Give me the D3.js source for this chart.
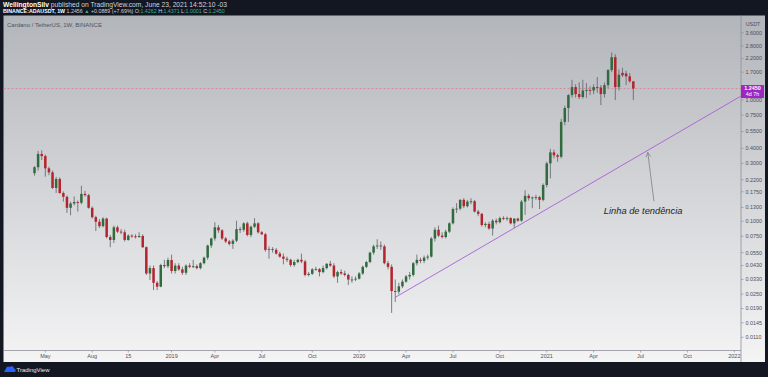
<!DOCTYPE html>
<html>
<head>
<meta charset="utf-8">
<script src="https://cdn.jsdelivr.net/npm/d3@7"></script>
<style>
  html, body { margin: 0; padding: 0; background: #131722; }
  svg { display: block; font-family: 'Liberation Sans', Arial, sans-serif; }
</style>
</head>
<body>
<div id="chart"></div>
<script>
/**
 * ADA/USDT weekly candles, log price scale
 */

// first weekly bar (Monday), one bar per week after that
var firstWeek = '2018-04-16';

var opens = [
  .249, .279, .359, .345, .273, .253, .188, .223, .171, .159,   // 0
  .129, .140, .144, .142, .168, .164, .129, .108, .099, .091,   // 10
  .105, .074, .070, .089, .082, .081, .070, .076, .075, .074,   // 20
  .0755, .061, .037, .041, .031, .0288, .0435, .0425, .0478, .0388, // 30
  .043, .040, .0375, .043, .042, .0425, .041, .045, .050, .063, // 40
  .072, .089, .084, .072, .068, .065, .069, .086, .085, .096,   // 50
  .077, .090, .096, .081, .078, .058, .059, .058, .054, .051,   // 60
  .049, .048, .0435, .046, .048, .0465, .036, .0368, .040, .0402, // 70
  .038, .041, .0445, .043, .035, .038, .037, .036, .033, .033,  // 80
  .0335, .037, .042, .046, .055, .062, .063, .062, .045, .042,  // 90
  .0265, .0262, .029, .0317, .035, .036, .045, .048, .047, .050, // 100
  .051, .072, .085, .076, .074, .082, .096, .126, .127, .150,   // 110
  .133, .145, .146, .120, .115, .093, .095, .087, .101, .098,   // 120
  .106, .105, .106, .096, .105, .101, .145, .162, .155, .157,   // 130
  .158, .150, .199, .30, .37, .35, .34, .66, .86, 1.10,         // 140
  1.28, 1.12, 1.06, 1.20, 1.21, 1.20, 1.28, 1.27, 1.12, 1.33,   // 150
  1.77, 2.26, 1.28, 1.68, 1.66, 1.57, 1.4262                    // 160
];

var highs = [
  .285, .380, .385, .355, .282, .262, .232, .230, .176, .163,
  .145, .160, .148, .196, .178, .168, .132, .111, .104, .108,
  .107, .077, .092, .092, .086, .085, .078, .078, .078, .081,
  .078, .062, .043, .043, .032, .0445, .048, .050, .053, .045,
  .045, .042, .044, .045, .048, .044, .046, .051, .064, .073,
  .098, .093, .086, .074, .070, .071, .101, .090, .098, .099,
  .092, .106, .098, .083, .080, .062, .061, .060, .056, .054,
  .051, .049, .048, .049, .054, .048, .038, .041, .042, .041,
  .043, .045, .047, .045, .039, .040, .039, .037, .035, .035,
  .038, .043, .047, .056, .064, .071, .068, .064, .047, .044,
  .033, .031, .033, .036, .038, .046, .053, .050, .052, .053,
  .074, .089, .092, .081, .085, .098, .130, .141, .152, .155,
  .150, .155, .150, .124, .117, .098, .099, .104, .105, .109,
  .110, .109, .108, .106, .107, .150, .180, .168, .160, .165,
  .162, .205, .31, .395, .39, .36, .70, .90, 1.12, 1.47,
  1.35, 1.40, 1.47, 1.38, 1.30, 1.35, 1.55, 1.33, 1.40, 1.80,
  2.47, 2.39, 1.79, 1.85, 1.75, 1.67, 1.4371
];

var lows = [
  .238, .262, .320, .233, .240, .185, .171, .168, .145, .117,
  .112, .135, .120, .138, .160, .127, .105, .083, .088, .089,
  .072, .061, .066, .080, .078, .068, .069, .073, .072, .073,
  .060, .036, .0327, .027, .027, .0285, .041, .041, .037, .037,
  .039, .036, .036, .041, .041, .040, .040, .044, .048, .060,
  .069, .080, .070, .066, .063, .059, .067, .080, .082, .075,
  .074, .088, .079, .077, .056, .049, .055, .053, .050, .044,
  .046, .042, .042, .045, .045, .035, .035, .036, .039, .035,
  .037, .040, .042, .034, .031, .036, .035, .0297, .031, .032,
  .033, .036, .041, .045, .053, .059, .058, .044, .040, .0175,
  .0215, .025, .028, .031, .033, .035, .043, .045, .045, .048,
  .050, .068, .074, .072, .072, .080, .094, .117, .123, .128,
  .130, .138, .118, .110, .090, .089, .085, .076, .094, .096,
  .102, .101, .094, .088, .099, .099, .113, .148, .128, .150,
  .126, .146, .19, .226, .33, .31, .33, .62, .66, 1.05,
  1.05, 1.02, 1.03, 1.04, 1.10, 1.12, 1.15, 0.91, 1.05, 1.25,
  1.70, 1.00, 1.20, 1.55, 1.33, 1.39, 1.0001
];

var closes = [
  .279, .359, .345, .273, .253, .188, .223, .171, .159, .129,
  .140, .144, .142, .168, .164, .129, .108, .099, .091, .105,
  .074, .070, .089, .082, .081, .070, .076, .075, .074, .0755,
  .061, .037, .041, .031, .0288, .0435, .0425, .0478, .0388, .043,
  .040, .0375, .043, .042, .0425, .041, .045, .050, .063, .072,
  .089, .084, .072, .068, .065, .069, .086, .085, .096, .077,
  .090, .096, .081, .078, .058, .059, .058, .054, .051, .049,
  .048, .0435, .046, .048, .0465, .036, .0368, .040, .0402, .038,
  .041, .0445, .043, .035, .038, .037, .036, .033, .033, .0335,
  .037, .042, .046, .055, .062, .063, .062, .045, .042, .0265,
  .0262, .029, .0317, .035, .036, .045, .048, .047, .050, .051,
  .072, .085, .076, .074, .082, .096, .126, .127, .150, .133,
  .145, .146, .120, .115, .093, .095, .087, .101, .098, .106,
  .105, .106, .096, .105, .101, .145, .162, .155, .157, .158,
  .150, .199, .30, .37, .35, .34, .66, .86, 1.10, 1.28,
  1.12, 1.06, 1.20, 1.21, 1.20, 1.28, 1.27, 1.12, 1.33, 1.77,
  2.26, 1.28, 1.62, 1.60, 1.57, 1.43, 1.2450
];

// price axis labels (log scale)
var priceTicks = [3.6, 2.8, 2.2, 1.7, 1.0, 0.75, 0.55, 0.40, 0.30, 0.22, 0.175,
                  0.13, 0.10, 0.075, 0.055, 0.043, 0.033, 0.025, 0.019, 0.0145, 0.011];

// time axis labels
var timeTicks  = ['2018-05-07', '2018-08-06', '2018-10-15', '2019-01-07', '2019-04-01', '2019-07-01',
                  '2019-10-07', '2020-01-06', '2020-04-06', '2020-07-06', '2020-10-05', '2021-01-04',
                  '2021-04-05', '2021-07-05', '2021-10-04', '2022-01-03'];
var timeLabels = ['May', 'Aug', '15', '2019', 'Apr', 'Jul', 'Oct', '2020', 'Apr', 'Jul', 'Oct', '2021',
                  'Apr', 'Jul', 'Oct', '2022'];

var lastPrice = 1.2450,
    countdown = '4d 7h';

// drawing: trend line, arrow and note
var trendDates  = ['2020-03-16', '2022-01-16'],
    trendPrices = [0.0235, 1.08];
var arrowDates  = ['2021-07-31', '2021-07-19'],
    arrowPrices = [0.146, 0.37];
var noteDate = '2021-07-10', notePrice = 0.114, noteText = 'Linha de tendência';

/**
 * Vars
 */
var W = 768, H = 377,
    plot = { left: 3.5, right: 741, top: 15.5, bottom: 350.5 },
    parse = d3.utcParse('%Y-%m-%d'),
    upColor = '#2f6b3d',
    downColor = '#b3242c',
    wickColor = '#5e616b',
    axisText = '#4c4f5a';

var x = d3.scaleUtc()
  .domain([ parse('2018-04-16'), parse('2022-01-01') ])
  .range([ 34.5, 733.3 ]);

var y = d3.scaleLog()
  .domain([ 0.011, 3.6 ])
  .range([ 337.3, 32.7 ]);

var start = parse(firstWeek);
var candles = closes.map(function(c, i) {
  return { date: d3.utcMonday.offset(start, i), o: opens[i], h: highs[i], l: lows[i], c: c };
});

/**
 * SVG
 */
var svg = d3.select('#chart').append('svg')
  .attr('width', W)
  .attr('height', H);

var defs = svg.append('defs');
var grad = defs.append('linearGradient')
  .attr('id', 'bg')
  .attr('x1', 0).attr('y1', 0).attr('x2', 0).attr('y2', 1);
grad.append('stop').attr('offset', '0%').attr('stop-color', '#b2b5ba');
grad.append('stop').attr('offset', '100%').attr('stop-color', '#f4f4f5');

defs.append('clipPath').attr('id', 'plotclip')
  .append('rect')
    .attr('x', plot.left).attr('y', plot.top)
    .attr('width', plot.right - plot.left).attr('height', plot.bottom - plot.top);

defs.append('marker')
  .attr('id', 'arrowhead')
  .attr('viewBox', '0 0 8 8')
  .attr('refX', 7).attr('refY', 4)
  .attr('markerWidth', 6).attr('markerHeight', 6)
  .attr('markerUnits', 'userSpaceOnUse')
  .attr('orient', 'auto')
  .append('path')
    .attr('d', 'M1,1 L7,4 L1,7')
    .attr('fill', 'none')
    .attr('stroke', '#7d8089')
    .attr('stroke-width', 1);

// dark frame + light panel
svg.append('rect').attr('width', W).attr('height', H).attr('fill', '#131722');
svg.append('rect')
  .attr('x', plot.left).attr('y', plot.top)
  .attr('width', 765 - plot.left).attr('height', 362 - plot.top)
  .attr('fill', 'url(#bg)');

/**
 * Header
 */
var l1 = svg.append('text').attr('x', 3).attr('y', 7.2).attr('font-size', '6.7px');
l1.append('tspan').attr('font-weight', 'bold').attr('fill', '#ffffff').text('WellingtonSilv');
l1.append('tspan').attr('fill', '#d1d4dc').text(' published on TradingView.com, June 23, 2021 14:52:10 -03');

var green = '#3bb08f';
var l2 = svg.append('text').attr('x', 3).attr('y', 13.4).attr('font-size', '5.3px').attr('fill', '#d1d4dc');
l2.append('tspan').attr('font-weight', 'bold').attr('fill', '#ffffff').text('BINANCE:ADAUSDT, 1W');
l2.append('tspan').text(' 1.2456 ');
l2.append('tspan').attr('fill', green).text('\u25B2');
l2.append('tspan').text(' +0.0889 (+7.69%) O:');
l2.append('tspan').attr('fill', green).text('1.4262');
l2.append('tspan').text(' H:');
l2.append('tspan').attr('fill', green).text('1.4371');
l2.append('tspan').text(' L:');
l2.append('tspan').attr('fill', green).text('1.0001');
l2.append('tspan').text(' C:');
l2.append('tspan').attr('fill', green).text('1.2450');

svg.append('text')
  .attr('x', 7).attr('y', 27)
  .attr('font-size', '6px')
  .attr('fill', '#50535d')
  .text('Cardano / TetherUS, 1W, BINANCE');

/**
 * Last price line
 */
svg.append('line')
  .attr('x1', plot.left).attr('x2', plot.right)
  .attr('y1', y(lastPrice)).attr('y2', y(lastPrice))
  .attr('stroke', '#e06f86')
  .attr('stroke-width', 0.7)
  .attr('stroke-dasharray', '2,2');

/**
 * Candles
 */
var bw = 2.5;
var bars = svg.append('g').attr('clip-path', 'url(#plotclip)')
  .selectAll('.candle').data(candles)
  .enter().append('g')
    .attr('class', 'candle');

bars.append('line')
  .attr('x1', function(d) { return x(d.date); })
  .attr('x2', function(d) { return x(d.date); })
  .attr('y1', function(d) { return y(d.h); })
  .attr('y2', function(d) { return y(d.l); })
  .attr('stroke', wickColor)
  .attr('stroke-width', 0.8);

bars.append('rect')
  .attr('x', function(d) { return x(d.date) - bw / 2; })
  .attr('width', bw)
  .attr('y', function(d) { return y(Math.max(d.o, d.c)); })
  .attr('height', function(d) { return Math.max(0.9, Math.abs(y(d.o) - y(d.c))); })
  .attr('fill', function(d) { return d.c >= d.o ? upColor : downColor; });

/**
 * Trend line + note
 */
var lineGen = d3.line()
  .x(function(d) { return x(parse(d[0])); })
  .y(function(d) { return y(d[1]); });

svg.append('path')
  .attr('clip-path', 'url(#plotclip)')
  .attr('d', lineGen(d3.zip(trendDates, trendPrices)))
  .attr('fill', 'none')
  .attr('stroke', '#ab5cd8')
  .attr('stroke-width', 0.9);

svg.append('path')
  .attr('d', lineGen(d3.zip(arrowDates, arrowPrices)))
  .attr('fill', 'none')
  .attr('stroke', '#7d8089')
  .attr('stroke-width', 0.8)
  .attr('marker-end', 'url(#arrowhead)');

svg.append('text')
  .attr('x', x(parse(noteDate)))
  .attr('y', y(notePrice))
  .attr('text-anchor', 'middle')
  .attr('font-size', '9.3px')
  .attr('font-style', 'italic')
  .attr('fill', '#1f2229')
  .text(noteText);

/**
 * Axes
 */
svg.append('line')
  .attr('x1', plot.right).attr('x2', plot.right)
  .attr('y1', plot.top).attr('y2', 362)
  .attr('stroke', '#8d9099').attr('stroke-width', 0.8);
svg.append('line')
  .attr('x1', plot.left).attr('x2', plot.right)
  .attr('y1', plot.bottom).attr('y2', plot.bottom)
  .attr('stroke', '#8d9099').attr('stroke-width', 0.8);

var yTicks = svg.selectAll('.ytick').data(priceTicks)
  .enter().append('g')
    .attr('class', 'ytick')
    .attr('transform', function(d) { return 'translate(' + plot.right + ',' + y(d) + ')'; });
yTicks.append('line').attr('x2', 2.5).attr('stroke', '#8d9099').attr('stroke-width', 0.7);
yTicks.append('text')
  .attr('x', 4.5)
  .attr('dy', '0.35em')
  .attr('font-size', '5.4px')
  .attr('fill', axisText)
  .text(function(d) { return d.toFixed(4); });

svg.append('text')
  .attr('x', 753).attr('y', 24).attr('dy', '0.35em')
  .attr('text-anchor', 'middle')
  .attr('font-size', '5.4px')
  .attr('fill', axisText)
  .text('USDT');

var xTicks = svg.selectAll('.xtick').data(timeTicks)
  .enter().append('g')
    .attr('class', 'xtick')
    .attr('transform', function(d) { return 'translate(' + x(parse(d)) + ',' + plot.bottom + ')'; });
xTicks.append('line').attr('y2', 2).attr('stroke', '#8d9099').attr('stroke-width', 0.7);
xTicks.append('text')
  .attr('y', 6).attr('dy', '0.35em')
  .attr('text-anchor', 'middle')
  .attr('font-size', '5.5px')
  .attr('fill', axisText)
  .text(function(d, i) { return timeLabels[i]; });

// price label on the axis
var tag = svg.append('g').attr('transform', 'translate(' + plot.right + ',' + y(lastPrice) + ')');
tag.append('rect')
  .attr('x', 0).attr('y', -3.5)
  .attr('width', 23).attr('height', 13)
  .attr('fill', '#9c27c2');
tag.append('text')
  .attr('x', 11.5).attr('y', 1.5)
  .attr('text-anchor', 'middle').attr('font-size', '5.4px').attr('font-weight', 'bold')
  .attr('fill', '#ffffff')
  .text(lastPrice.toFixed(4));
tag.append('text')
  .attr('x', 11.5).attr('y', 7.5)
  .attr('text-anchor', 'middle').attr('font-size', '5.4px')
  .attr('fill', '#ffffff')
  .text(countdown);

/**
 * Footer logo
 */
var logo = svg.append('g').attr('transform', 'translate(4,365)');
logo.append('path')
  .attr('d', 'M0,7 L2,3.5 A2.2,2.2 0 0 1 5.5,2 A2.6,2.6 0 0 1 10,3.5 A2,2 0 0 1 11,7 Z')
  .attr('fill', '#2962ff');
logo.append('text')
  .attr('x', 12.5).attr('y', 4.8).attr('dy', '0.35em')
  .attr('font-size', '6px')
  .attr('fill', '#e8eaf0')
  .text('TradingView');
</script>
</body>
</html>
